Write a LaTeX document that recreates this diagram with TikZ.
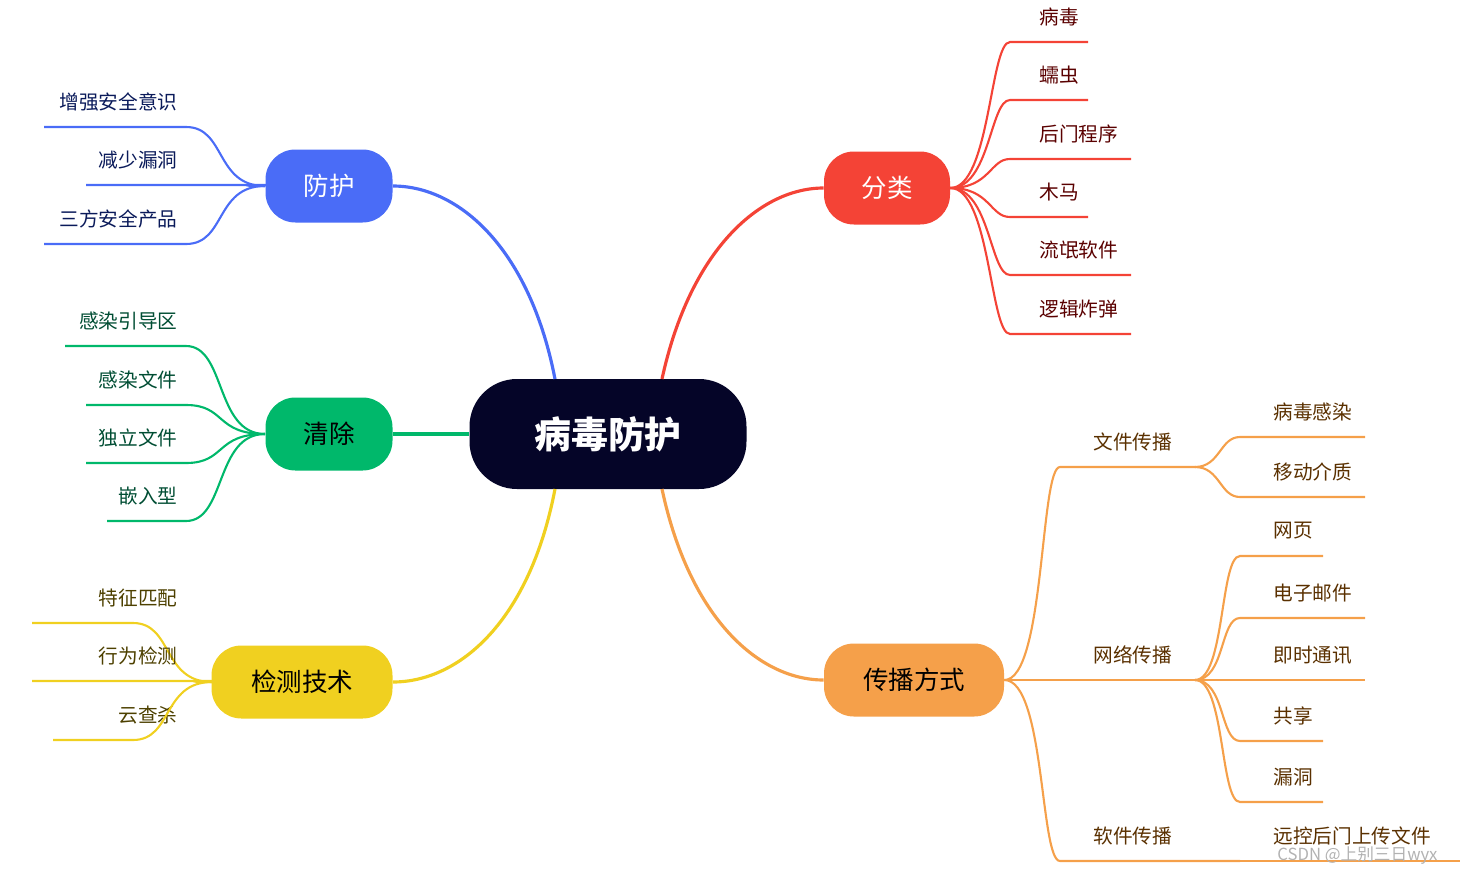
\documentclass[tikz,border=0pt]{standalone}
\usepackage{fontspec}
\setmainfont{Noto Sans CJK SC}
\begin{document}
\begin{tikzpicture}[x=0.02cm,y=-0.02cm,
  pill/.style={rounded corners=17pt,minimum height=73*0.02cm,inner sep=0pt,font=\fontsize{14.5}{16}\selectfont},
  leaf/.style={font=\fontsize{11.2}{13}\selectfont,inner sep=0pt},
  br/.style={line width=1.8pt},
  lf/.style={line width=1.2pt}]
\definecolor{cblue}{HTML}{4A6CF7}\definecolor{cgreen}{HTML}{00B86B}
\definecolor{cyel}{HTML}{F0D020}\definecolor{cred}{HTML}{F44336}
\definecolor{corg}{HTML}{F5A04A}\definecolor{cnavy}{HTML}{050528}
\definecolor{tblue}{HTML}{0A1A5A}\definecolor{tgreen}{HTML}{004D33}
\definecolor{tyel}{HTML}{4D4000}\definecolor{tred}{HTML}{5A0000}
\definecolor{torg}{HTML}{5A3000}
\useasboundingbox (0,0) rectangle (1474,876);
% center
\node[fill=cnavy,text=white,rounded corners=27pt,minimum width=277*0.02cm,minimum height=110*0.02cm,font=\fontsize{21}{24}\bfseries\selectfont] (c) at (608,434) {病毒防护};
\node[pill,fill=cblue,text=white,minimum width=127*0.02cm] (fh) at (329,186) {防护};
\node[pill,fill=cgreen,text=black,minimum width=127*0.02cm] (qc) at (329,434) {清除};
\node[pill,fill=cyel,text=black,minimum width=181*0.02cm] (jc) at (302,682) {检测技术};
\node[pill,fill=cred,text=white,minimum width=126*0.02cm] (fl) at (887,188) {分类};
\node[pill,fill=corg,text=black,minimum width=180*0.02cm] (cb) at (914,680) {传播方式};
% main connectors
\coordinate (ct1) at (555,379);\coordinate (ct2) at (662,379);
\coordinate (cb1) at (555,489);\coordinate (cb2) at (662,489);
\draw[br,cblue] (ct1) .. controls (530,250) and (460,186) .. (fh.east);
\draw[br,cgreen] (c.west) -- (qc.east);
\draw[br,cyel] (cb1) .. controls (530,620) and (460,682) .. (jc.east);
\draw[br,cred] (ct2) .. controls (690,250) and (760,188) .. (fl.west);
\draw[br,corg] (cb2) .. controls (690,620) and (760,680) .. (cb.west);
% left leaves
\foreach \t/\y/\xl/\xr/\col/\tc/\sx/\sy in {增强安全意识/127/44/186/cblue/tblue/265/186,减少漏洞/185/86/265/cblue/tblue/265/186,三方安全产品/244/44/186/cblue/tblue/265/186,
 感染引导区/346/65/186/cgreen/tgreen/265/434,感染文件/405/86/186/cgreen/tgreen/265/434,独立文件/463/86/186/cgreen/tgreen/265/434,嵌入型/521/107/186/cgreen/tgreen/265/434,
 特征匹配/623/32/133/cyel/tyel/212/682,行为检测/681/32/212/cyel/tyel/212/682,云查杀/740/53/133/cyel/tyel/212/682}{
 \coordinate (a) at (\xl,\y);\coordinate (b) at (\xr,\y);\coordinate (s) at (\sx,\sy);
 \node[leaf,anchor=east,text=\tc] (t) at (178,\y-25) {\t};
 \draw[lf,\col] (a) -- (b) .. controls (\xr+40,\y) and (\sx-50,\sy) .. (s);
}
% red leaves
\foreach \t/\y/\xr in {病毒/42/1088,蠕虫/100/1088,后门程序/159/1131,木马/217/1088,流氓软件/275/1131,逻辑炸弹/334/1131}{
 \coordinate (a) at (1010,\y);\coordinate (b) at (\xr,\y);
 \node[leaf,anchor=west,text=tred] (t) at (1039,\y-25) {\t};
 \draw[lf,cred] (fl.east) .. controls (990,188) and (990,\y) .. (a) -- (b);
}
% orange
\coordinate (wj) at (1060,467);\coordinate (wjr) at (1195,467);
\coordinate (wl) at (1060,680);\coordinate (wlr) at (1195,680);
\coordinate (rj) at (1060,861);\coordinate (rjr) at (1240,861);
\draw[lf,corg] (cb.east) .. controls (1045,680) and (1040,467) .. (wj) -- (wjr);
\draw[lf,corg] (cb.east) -- (wlr);
\draw[lf,corg] (cb.east) .. controls (1045,680) and (1040,861) .. (rj) -- (rjr);
\node[leaf,anchor=west,text=torg] (t1) at (1093,442) {文件传播};
\node[leaf,anchor=west,text=torg] (t2) at (1093,655) {网络传播};
\node[leaf,anchor=west,text=torg] (t3) at (1093,836) {软件传播};
\foreach \t/\y/\xr in {病毒感染/437/1365,移动介质/497/1365}{
 \coordinate (a) at (1240,\y);\coordinate (b) at (\xr,\y);
 \node[leaf,anchor=west,text=torg] (t) at (1273,\y-25) {\t};
 \draw[lf,corg] (wjr) .. controls (1220,467) and (1220,\y) .. (a) -- (b);
}
\foreach \t/\y/\xr in {网页/556/1323,电子邮件/618/1365,即时通讯/680/1365,共享/741/1323,漏洞/802/1323}{
 \coordinate (a) at (1240,\y);\coordinate (b) at (\xr,\y);
 \node[leaf,anchor=west,text=torg] (t) at (1273,\y-25) {\t};
 \draw[lf,corg] (wlr) .. controls (1225,680) and (1220,\y) .. (a) -- (b);
}
\coordinate (yk) at (1460,861);
\draw[lf,corg] (rjr) -- (yk);
\node[leaf,anchor=west,text=torg] (t4) at (1273,836) {远控后门上传文件};
\node[anchor=west,inner sep=0pt,text=gray!60,font=\fontsize{9.5}{11}\selectfont] (wm) at (1277,856) {CSDN @上别三日wyx};
\end{tikzpicture}
\end{document}
